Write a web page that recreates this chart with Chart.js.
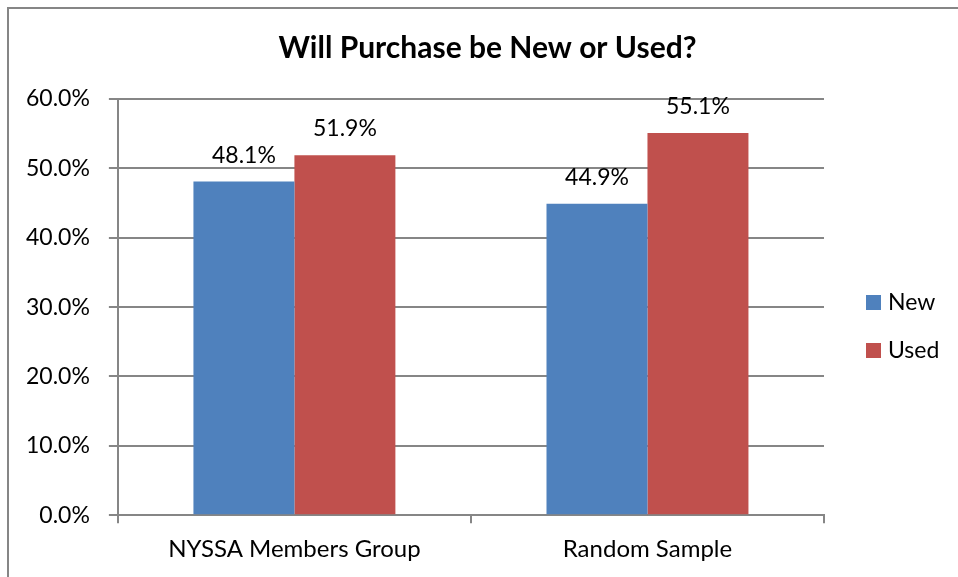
<!DOCTYPE html>
<html>
<head>
<meta charset="utf-8">
<script src="https://cdn.jsdelivr.net/npm/chart.js@4"></script>
<style>
  html, body { margin: 0; padding: 0; background: #fff; overflow: hidden; }
  #frame {
    position: absolute; left: 7px; top: 7px; width: 960px; height: 580px;
    border-left: 2px solid #868686; border-top: 2px solid #868686;
    box-sizing: border-box;
  }
  #wrap { position: absolute; left: 7px; top: 8px; width: 951px; height: 569px; }
</style>
</head>
<body>
<div id="frame"></div>
<div id="wrap"><canvas id="chartcanvas"></canvas></div>
<script>
var categories = ["NYSSA Members Group", "Random Sample"];
var newValues = [48.1, 44.9];
var usedValues = [51.9, 55.1];
var seriesNames = ["New", "Used"];
var yTicks = [0, 10, 20, 30, 40, 50, 60];
var titleText = "Will Purchase be New or Used?";

var fontFamily = "Lato, 'Noto Sans', sans-serif";
var axisGray = "#868686";

// title, value labels and legend drawn by hand (Excel look)
var excelBits = {
    id: "excelBits",
    afterDatasetsDraw: function (chart) {
        var ctx = chart.ctx;
        var area = chart.chartArea;
        ctx.save();
        ctx.fillStyle = "#000";

        // labels above bars
        ctx.font = "23px " + fontFamily;
        ctx.textAlign = "center";
        ctx.textBaseline = "alphabetic";
        chart.data.datasets.forEach(function (ds, i) {
            chart.getDatasetMeta(i).data.forEach(function (bar, j) {
                ctx.fillText(ds.data[j].toFixed(1) + "%", bar.x, bar.y - 19);
            });
        });

        // title
        ctx.font = "bold 30px " + fontFamily;
        ctx.textBaseline = "middle";
        ctx.fillText(titleText, chart.width / 2 + 5, 40);

        // legend
        ctx.font = "23px " + fontFamily;
        ctx.textAlign = "left";
        chart.data.datasets.forEach(function (ds, i) {
            var bx = area.right + 42;
            var by = area.top + 196 + i * 48;
            ctx.fillStyle = ds.backgroundColor;
            ctx.fillRect(bx, by, 15, 15);
            ctx.fillStyle = "#000";
            ctx.fillText(ds.label, bx + 22, by + 8);
        });
        ctx.restore();
    }
};

var ctx = document.getElementById("chartcanvas");
var chart = new Chart(ctx, {
    type: "bar",
    data: {
        labels: categories,
        datasets: [
            {
                label: seriesNames[0],
                data: newValues,
                backgroundColor: "#4F81BD",
                categoryPercentage: 0.572,
                barPercentage: 1
            },
            {
                label: seriesNames[1],
                data: usedValues,
                backgroundColor: "#C0504D",
                categoryPercentage: 0.572,
                barPercentage: 1
            }
        ]
    },
    options: {
        responsive: true,
        maintainAspectRatio: false,
        animation: false,
        layout: {
            padding: { left: 0, right: 134, top: 91, bottom: 1 }
        },
        plugins: {
            title: { display: false },
            legend: { display: false },
            tooltip: { enabled: false }
        },
        scales: {
            x: {
                grid: {
                    drawOnChartArea: false,
                    drawTicks: true,
                    tickLength: 8,
                    color: axisGray,
                    lineWidth: 2
                },
                border: { color: axisGray, width: 2 },
                ticks: {
                    color: "#000",
                    padding: 12,
                    font: { family: fontFamily, size: 24 }
                }
            },
            y: {
                min: 0,
                max: 60,
                afterBuildTicks: function (axis) {
                    axis.ticks = yTicks.map(function (v) { return { value: v }; });
                },
                grid: {
                    color: axisGray,
                    lineWidth: 2,
                    tickLength: 9
                },
                border: { color: axisGray, width: 2 },
                ticks: {
                    color: "#000",
                    padding: 19,
                    font: { family: fontFamily, size: 23 },
                    callback: function (v) { return Number(v).toFixed(1) + "%"; }
                }
            }
        }
    },
    plugins: [excelBits]
});
</script>
</body>
</html>
